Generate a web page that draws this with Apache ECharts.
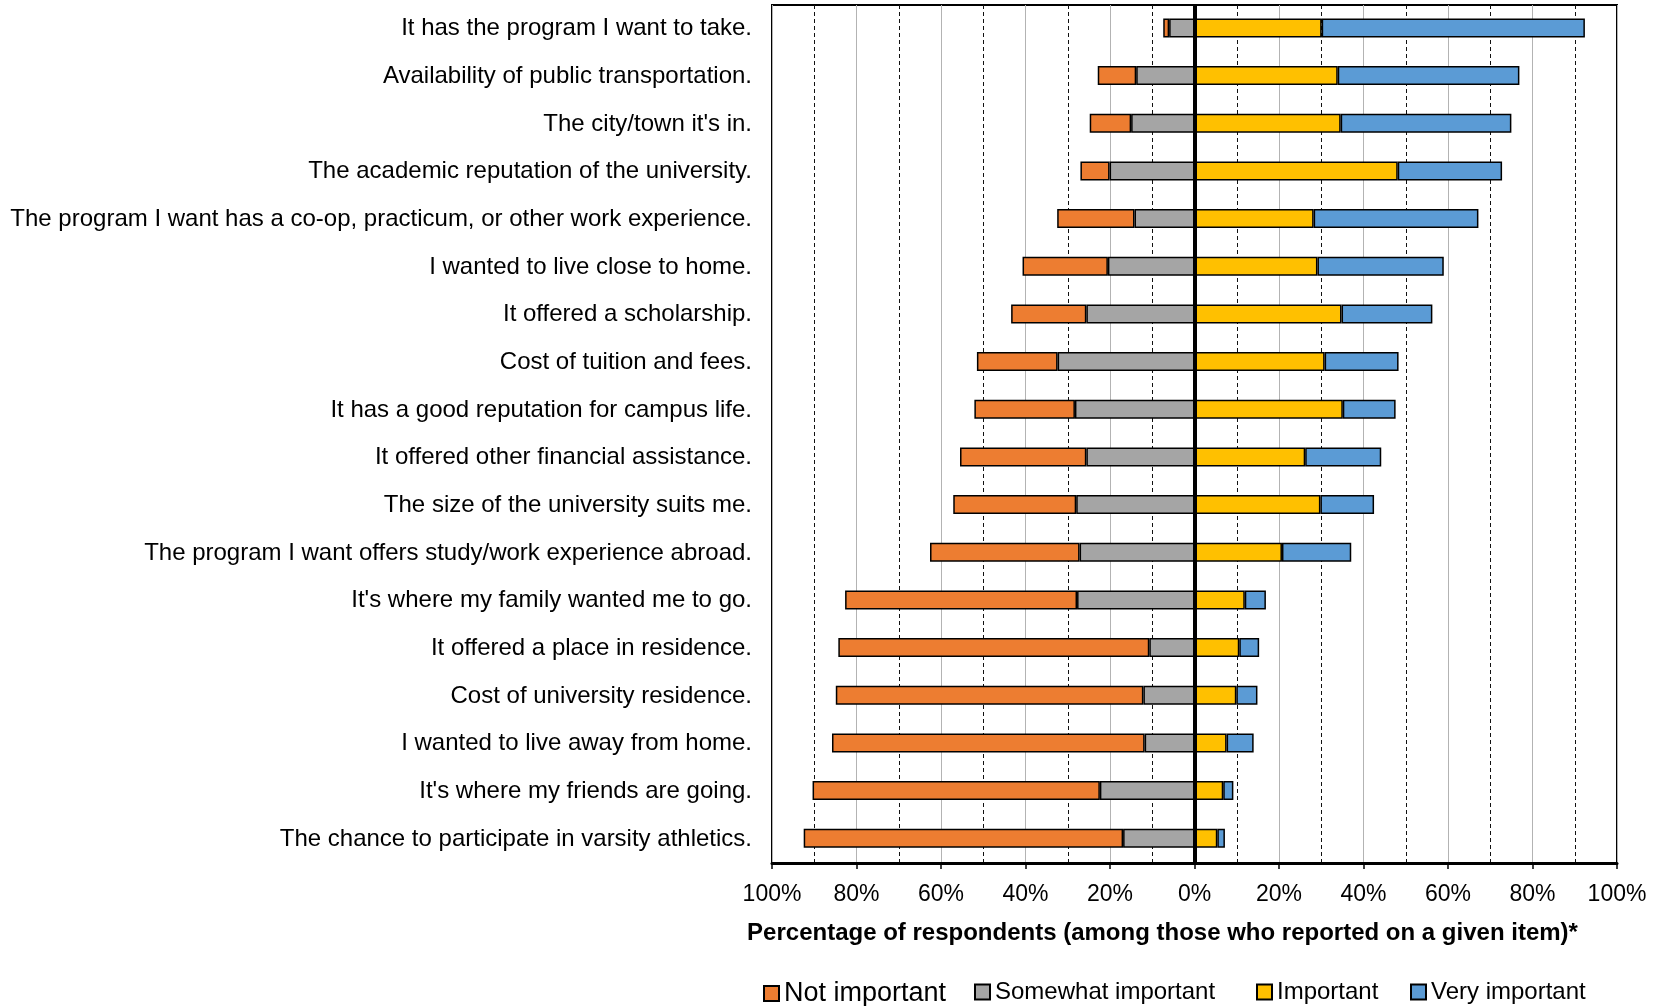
<!DOCTYPE html>
<html>
<head>
<meta charset="utf-8">
<script src="https://cdn.jsdelivr.net/npm/echarts@6/dist/echarts.min.js"></script>
<style>
  html, body { margin: 0; padding: 0; background: #fff; }
  #chart { width: 1663px; height: 1006px; }
</style>
</head>
<body>
<div id="chart"></div>
<script>
const categories = [
  "It has the program I want to take.",
  "Availability of public transportation.",
  "The city/town it's in.",
  "The academic reputation of the university.",
  "The program I want has a co-op, practicum, or other work experience.",
  "I wanted to live close to home.",
  "It offered a scholarship.",
  "Cost of tuition and fees.",
  "It has a good reputation for campus life.",
  "It offered other financial assistance.",
  "The size of the university suits me.",
  "The program I want offers study/work experience abroad.",
  "It's where my family wanted me to go.",
  "It offered a place in residence.",
  "Cost of university residence.",
  "I wanted to live away from home.",
  "It's where my friends are going.",
  "The chance to participate in varsity athletics."
];
const notImportant = [1.4, 9.1, 9.8, 6.9, 18.3, 20.2, 17.8, 19.1, 23.8, 29.9, 29.1, 35.4, 54.9, 73.6, 72.8, 74.0, 68.0, 75.6];
const somewhatImportant = [6.0, 13.8, 15.0, 20.1, 14.2, 20.5, 25.6, 32.4, 28.3, 25.6, 28.0, 27.2, 27.8, 10.7, 12.1, 11.8, 22.4, 16.9];
const important = [30.1, 33.9, 34.6, 48.1, 28.2, 29.1, 34.8, 30.8, 35.1, 26.2, 29.8, 20.7, 11.9, 10.6, 9.9, 7.6, 6.8, 5.4];
const veryImportant = [62.3, 43.0, 40.4, 24.7, 39.0, 29.9, 21.5, 17.5, 12.5, 18.0, 12.7, 16.4, 5.0, 4.7, 5.0, 6.4, 2.4, 1.8];
const seriesNames = ["Not important", "Somewhat important", "Important", "Very important"];
const axisTitle = "Percentage of respondents (among those who reported on a given item)*";

const FONT = "'Liberation Sans', Arial, sans-serif";
const colors = { "Not important": "#ED7D31", "Somewhat important": "#A5A5A5", "Important": "#FFC000", "Very important": "#5B9BD5" };

function barSeries(name, values, negative, extra) {
  return Object.assign({
    name: name,
    type: "bar",
    stack: "total",
    barWidth: 19,
    data: values.map(v => negative ? -v : v),
    itemStyle: { color: colors[name], borderColor: "#000", borderWidth: 1.5 },
    emphasis: { disabled: true }
  }, extra || {});
}

const legendLefts = [763, 974, 1256, 1410];
const legendFontSizes = [27, 24, 24, 24];
const legends = seriesNames.map((n, i) => ({
  data: [n],
  left: legendLefts[i],
  top: 980,
  padding: 0,
  icon: "rect",
  itemWidth: 15,
  itemHeight: 15,
  selectedMode: false,
  textStyle: { fontFamily: FONT, fontSize: legendFontSizes[i], color: "#000" }
}));

const chart = echarts.init(document.getElementById("chart"), null, { renderer: "canvas" });
chart.setOption({
  animation: false,
  backgroundColor: "#fff",
  textStyle: { fontFamily: FONT },
  grid: { left: 772, right: 46, top: 5, bottom: 143, show: true, borderColor: "#000", borderWidth: 2, backgroundColor: "transparent" },
  legend: legends,
  xAxis: [
    {
      type: "value", min: -100, max: 100, interval: 20,
      axisLine: { show: true, onZero: false, lineStyle: { color: "#000", width: 3 } },
      axisTick: { show: true, length: 6, lineStyle: { color: "#000", width: 1.5 } },
      axisLabel: { formatter: v => Math.abs(v) + "%", fontSize: 23, color: "#000", margin: 20, fontFamily: FONT },
      splitLine: { show: true, lineStyle: { color: "#b3b3b3", width: 1, type: "solid" } },
      name: axisTitle, nameLocation: "middle", nameGap: 58,
      nameTextStyle: { fontSize: 24, fontWeight: "bold", color: "#000", fontFamily: FONT, padding: [0, 64, 0, 0] }
    },
    {
      type: "value", min: -100, max: 100, interval: 10, position: "bottom",
      axisLine: { show: false }, axisTick: { show: false }, axisLabel: { show: false },
      splitLine: { show: true, lineStyle: { color: ["rgba(0,0,0,0)", "#111"], width: 1, type: [4, 3] } }
    }
  ],
  yAxis: {
    type: "category", data: categories, inverse: true,
    axisLine: { show: false }, axisTick: { show: false },
    axisLabel: { fontSize: 24, color: "#000", margin: 20, fontFamily: FONT },
    splitLine: { show: false }
  },
  series: [
    barSeries("Somewhat important", somewhatImportant, true),
    barSeries("Not important", notImportant, true),
    barSeries("Important", important, false),
    barSeries("Very important", veryImportant, false, {
      markLine: {
        silent: true, symbol: ["none", "none"], label: { show: false },
        lineStyle: { color: "#000", width: 4, type: "solid" },
        data: [{ xAxis: 0 }]
      }
    }),
    { type: "bar", xAxisIndex: 1, data: [], name: "_grid" }
  ]
});
</script>
</body>
</html>
